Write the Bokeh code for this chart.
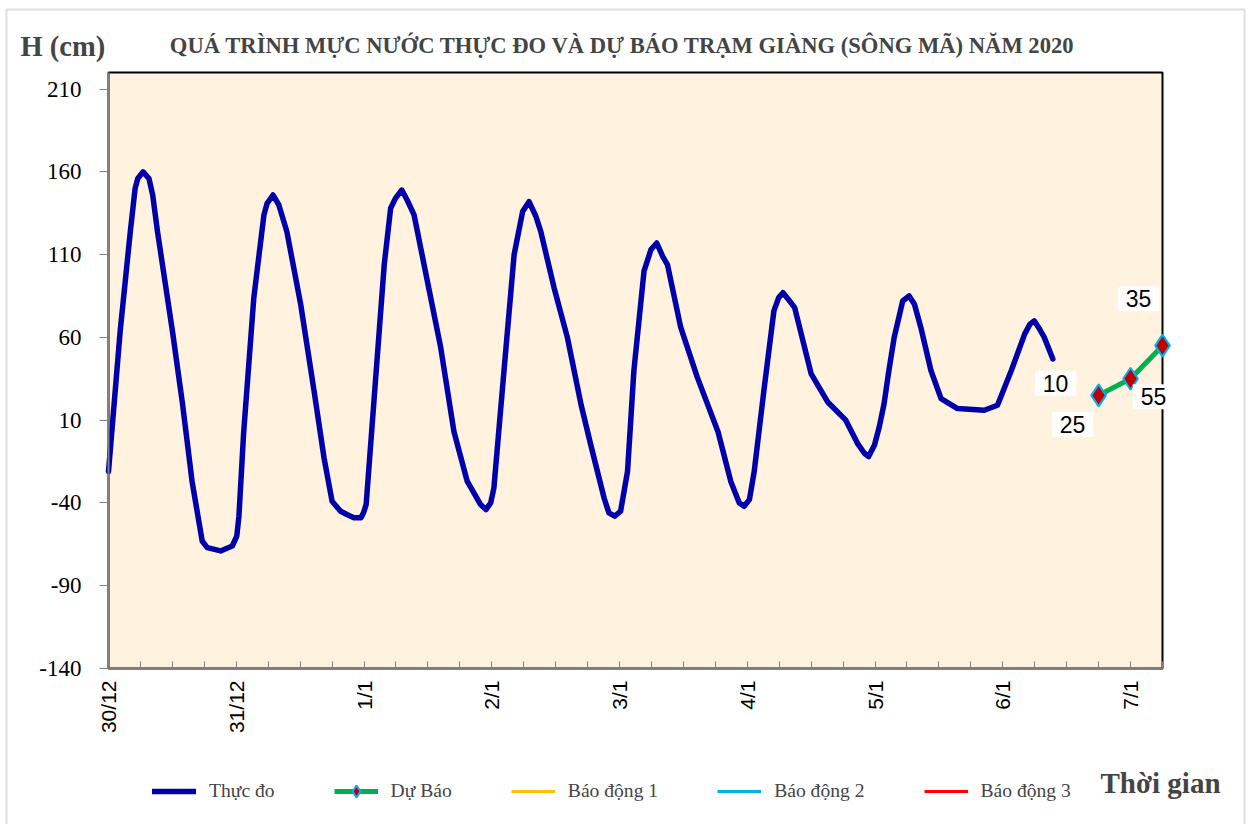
import math
from bokeh.plotting import figure
from bokeh.models import (ColumnDataSource, FixedTicker, Range1d, Label, Legend, LegendItem,
                          LinearAxis, BoxAnnotation)
from bokeh.core.properties import value
from bokeh.embed import file_html
from bokeh.resources import INLINE

# ---- data (hours since 30/12 00:00, water level in cm) ----
hours = [0, 2.2, 4.1, 5.0, 5.5, 6.5, 7.6, 8.3, 9.2, 12.0, 13.9, 15.7, 17.6, 18.55, 21.05,
         23.25, 24.1, 24.5, 25.4, 27.3, 29.2, 29.8, 30.9, 32.0, 33.5, 36.1, 38.6, 40.5,
         42.0, 43.6, 44.8, 46.1, 47.4, 47.9, 48.4, 49.9, 51.8, 53.0, 53.9, 55.1, 56.1,
         57.4, 59.9, 62.4, 64.9, 67.4, 69.9, 70.9, 71.8, 72.4, 74.3, 76.2, 77.8, 79.0,
         80.3, 81.2, 83.7, 86.2, 88.8, 90.6, 93.1, 94.0, 95.1, 96.2, 97.5, 98.7, 100.6,
         101.9, 103.0, 104.1, 105.0, 107.5, 110.6, 114.5, 116.9, 118.5, 119.4, 120.4,
         121.3, 123.2, 125.0, 125.9, 126.7, 127.7, 128.9, 132.0, 135.1, 138.5, 140.7,
         142.0, 142.8, 143.9, 144.8, 145.7, 146.6, 147.6, 149.2, 150.4, 151.4, 152.6,
         154.5, 156.4, 159.5, 164.5, 167.0, 169.6, 172.1, 173.1, 173.9, 174.9, 175.8,
         177.4]
observed = [-21, 64, 124, 150, 156, 160, 156, 146, 124, 64, 20, -27, -63, -67, -69,
            -66, -60, -48, 3, 84, 134, 141, 146, 140, 124, 80, 28, -13,
            -39, -45, -47, -49, -49, -46, -41, 23, 104, 138, 144, 149, 143,
            134, 94, 54, 3, -27, -41, -44, -40, -31, 40, 110, 136, 142,
            133, 124, 90, 60, 19, -5, -37, -46, -48, -45, -21, 40, 100,
            113, 117, 109, 104, 66, 36, 3, -27, -40, -42, -38,
            -21, 30, 76, 84, 87, 83, 78, 38, 21, 10, -4,
            -10, -12, -5, 6, 20, 40, 60, 82, 85, 80, 66,
            40, 23, 17, 16, 19, 40, 62, 68, 70, 65, 60,
            47]

forecast_hours = [186, 192, 198]
forecast_values = [25, 35, 55]

data_label_texts = ["10", "25", "55", "35"]
data_label_point = [0, 0, 1, 2]

day_labels = ["30/12", "31/12", "1/1", "2/1", "3/1", "4/1", "5/1", "6/1", "7/1"]
y_ticks = [-140, -90, -40, 10, 60, 110, 160, 210]
x_min, x_max = 0, 198          # axis limits (hours)
y_min, y_max = -140, 220       # axis limits (cm)

legend_labels = ["Thực đo", "Dự Báo", "Báo động 1", "Báo động 2", "Báo động 3"]
title_text = "QUÁ TRÌNH MỰC NƯỚC THỰC ĐO VÀ DỰ BÁO TRẠM GIÀNG (SÔNG MÃ) NĂM 2020"

# ---- layout (pixels) ----
W, H = 1250, 824
PL, PR, PT, PB = 108, 1162, 72, 668   # plot area edges on the canvas
xs = (PR - PL) / (x_max - x_min)
ys = (PB - PT) / (y_max - y_min)
x_range = Range1d(x_min - PL / xs, x_max + (W - PR) / xs)
y_range = Range1d(y_min - (H - PB) / ys, y_max + PT / ys)

p = figure(width=W, height=H, output_backend="svg", toolbar_location=None,
           x_range=x_range, y_range=y_range, x_axis_location=None, y_axis_location=None,
           min_border=0)
p.min_border_left = p.min_border_right = p.min_border_top = p.min_border_bottom = 0
p.background_fill_color = "white"
p.border_fill_color = "white"
p.outline_line_color = None
p.xgrid.visible = False
p.ygrid.visible = False

# chart-area border
p.add_layout(BoxAnnotation(left=6, right=1244, top=H - 9, bottom=-10,
                           left_units="screen", right_units="screen",
                           top_units="screen", bottom_units="screen",
                           fill_alpha=0, line_color="#969696", line_width=2, level="underlay"))

# plot area
p.quad(left=[x_min], right=[x_max], bottom=[y_min], top=[y_max],
       fill_color="#FFF2DE", line_color="black", line_width=2)

# y axis
yaxis = LinearAxis(fixed_location=x_min, bounds=(y_min, y_max))
yaxis.ticker = FixedTicker(ticks=y_ticks)
yaxis.major_label_overrides = {t: str(t) for t in y_ticks}
yaxis.major_label_text_font = "Liberation Serif"
yaxis.major_label_text_font_size = "23px"
yaxis.major_label_text_color = "black"
yaxis.axis_line_color = "#808080"
yaxis.axis_line_width = 2
yaxis.major_tick_line_color = "#808080"
yaxis.major_tick_out = 9
yaxis.major_tick_in = 0
yaxis.minor_tick_line_color = None
yaxis.major_label_standoff = 18
p.add_layout(yaxis, "left")

# x axis
x_ticks = list(range(x_min, x_max + 1, 6))
xaxis = LinearAxis(fixed_location=y_min, bounds=(x_min, x_max))
xaxis.ticker = FixedTicker(ticks=x_ticks)
overrides = {}
for t in x_ticks:
    overrides[t] = day_labels[t // 24] if t % 24 == 0 and t // 24 < len(day_labels) else ""
xaxis.major_label_overrides = overrides
xaxis.major_label_orientation = math.pi / 2
xaxis.major_label_text_font = "Liberation Sans"
xaxis.major_label_text_font_size = "21px"
xaxis.major_label_text_color = "black"
xaxis.axis_line_color = "#808080"
xaxis.axis_line_width = 2
xaxis.major_tick_line_color = "#808080"
xaxis.major_tick_in = 7
xaxis.major_tick_out = 0
xaxis.minor_tick_line_color = None
xaxis.major_label_standoff = 12
p.add_layout(xaxis, "below")

# series
obs_r = p.line(hours, observed, line_color="#0000AA", line_width=5.5,
               line_join="round", line_cap="round")
fc_line = p.line(forecast_hours, forecast_values, line_color="#00B050", line_width=5)
fc_pts = p.scatter(forecast_hours, forecast_values, marker="diamond", size=22,
                   fill_color="#C00000", line_color="#00B0F0", line_width=2)
nan = float("nan")
bd1 = p.line([nan], [nan], line_color="#FFC000", line_width=3)
bd2 = p.line([nan], [nan], line_color="#00B0F0", line_width=3)
bd3 = p.line([nan], [nan], line_color="#FF0000", line_width=3)

# data labels
label_x_off = [-43, -26, 23, -24]
label_y_off = [-12, 29, 18, -47]
lab_src = ColumnDataSource(dict(
    x=[forecast_hours[i] for i in data_label_point],
    y=[forecast_values[i] for i in data_label_point],
    text=data_label_texts, xo=label_x_off, yo=label_y_off))
p.text(x="x", y="y", text="text", x_offset="xo", y_offset="yo", source=lab_src,
       text_font=value("Liberation Sans"), text_font_size="23px", text_color="black",
       text_align="center", text_baseline="middle",
       background_fill_color="white", padding=[8, 4])

# titles
p.add_layout(Label(x=622, y=H - 45, x_units="screen", y_units="screen", text=title_text,
                   text_font="Liberation Serif", text_font_style="bold",
                   text_font_size="22.6px", text_align="center", text_baseline="middle"))
p.add_layout(Label(x=20, y=H - 46, x_units="screen", y_units="screen", text="H (cm)",
                   text_font="Liberation Serif", text_font_style="bold",
                   text_font_size="28.5px", text_align="left", text_baseline="middle"))
p.add_layout(Label(x=1100, y=H - 782, x_units="screen", y_units="screen", text="Thời gian",
                   text_font="Liberation Serif", text_font_style="bold",
                   text_font_size="29px", text_align="left", text_baseline="middle"))

# legend
items = [LegendItem(label=legend_labels[0], renderers=[obs_r]),
         LegendItem(label=legend_labels[1], renderers=[fc_line, fc_pts]),
         LegendItem(label=legend_labels[2], renderers=[bd1]),
         LegendItem(label=legend_labels[3], renderers=[bd2]),
         LegendItem(label=legend_labels[4], renderers=[bd3])]
legend = Legend(items=items, location=(152, H - 806), orientation="horizontal",
                label_text_font="Liberation Serif", label_text_font_size="19.6px",
                glyph_width=44, glyph_height=30, label_standoff=13, spacing=59,
                padding=0, margin=0, border_line_alpha=0, background_fill_alpha=0)
p.add_layout(legend)

open("out.html", "w").write(file_html(p, INLINE))
